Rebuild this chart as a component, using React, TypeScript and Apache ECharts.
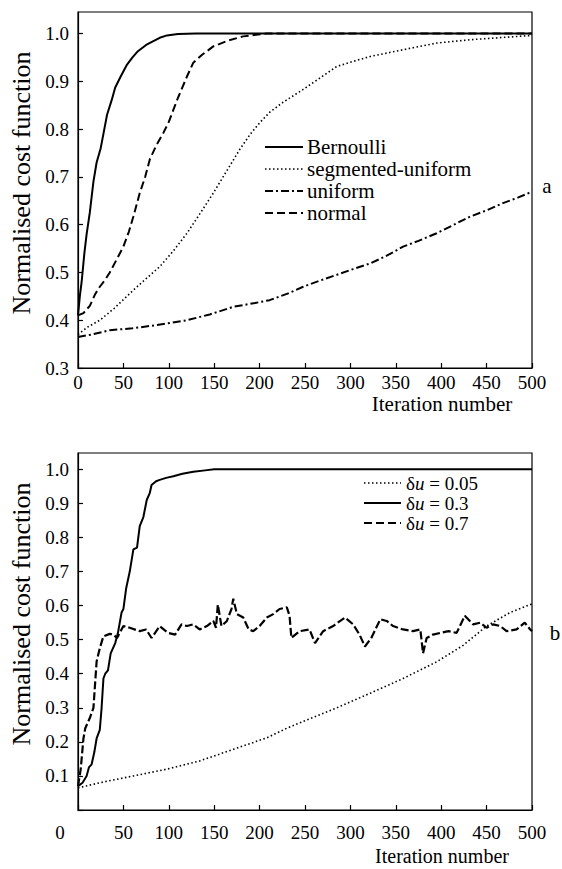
import React, { useEffect, useRef } from "react";
import * as echarts from "echarts";

const FONT = "Liberation Serif, Times New Roman, serif";

// Panel a
const xTicks = [0, 50, 100, 150, 200, 250, 300, 350, 400, 450, 500];
const bernoulli = [[0,0.41],[2,0.45],[4,0.48],[7,0.54],[9.5,0.58],[13,0.625],[17,0.69],[20.5,0.73],[25,0.76],[29,0.8],[32,0.83],[37,0.86],[41,0.887],[47,0.91],[54,0.935],[60,0.95],[66,0.963],[75,0.976],[83,0.984],[90,0.991],[98,0.996],[110,0.999],[130,1.0],[500,1.0]];
const segmentedUniform = [[0,0.37],[10,0.385],[24,0.40],[40,0.425],[61,0.463],[75,0.487],[90,0.512],[105,0.545],[120,0.582],[135,0.625],[149,0.666],[163,0.71],[178,0.757],[190,0.79],[200,0.813],[211,0.835],[225,0.855],[248,0.883],[265,0.905],[285,0.931],[300,0.94],[322,0.952],[358,0.966],[395,0.98],[432,0.987],[470,0.992],[500,0.996]];
const uniform = [[0,0.365],[15,0.37],[35,0.379],[60,0.383],[87,0.39],[120,0.40],[145,0.412],[171,0.428],[195,0.436],[211,0.442],[230,0.455],[248,0.47],[265,0.482],[285,0.495],[303,0.507],[322,0.519],[340,0.535],[358,0.554],[375,0.566],[395,0.582],[412,0.598],[432,0.617],[450,0.63],[468,0.645],[485,0.657],[500,0.669]];
const normal = [[0,0.41],[6,0.415],[13,0.43],[19,0.455],[24,0.47],[30,0.485],[35,0.5],[42,0.525],[50,0.554],[56,0.585],[61,0.617],[65,0.645],[68,0.666],[74,0.7],[79,0.736],[86,0.765],[94,0.792],[100,0.815],[105,0.84],[110,0.865],[114,0.883],[120,0.91],[127,0.939],[137,0.956],[149,0.973],[165,0.985],[182,0.994],[208,1.0],[500,1.0]];

// Panel b
const du005 = [[0,0.065],[24,0.08],[61,0.1],[98,0.12],[134,0.144],[171,0.178],[208,0.212],[230,0.24],[248,0.26],[285,0.3],[322,0.343],[358,0.386],[395,0.435],[424,0.483],[450,0.54],[476,0.58],[500,0.605]];
const du03 = [[0,0.07],[5,0.08],[9.5,0.1],[12,0.125],[15,0.134],[18,0.17],[20.5,0.21],[24,0.235],[26,0.3],[28,0.386],[30,0.4],[33,0.41],[36,0.46],[41,0.49],[44,0.52],[48,0.58],[50,0.59],[53,0.65],[57,0.7],[61,0.765],[65,0.77],[68,0.833],[72,0.86],[75.7,0.91],[79,0.93],[81,0.954],[86,0.965],[90,0.969],[97,0.975],[105,0.98],[115,0.987],[127,0.993],[140,0.997],[150,1.0],[500,1.0]];
const du07 = [[0,0.07],[3,0.12],[6,0.21],[8,0.24],[13,0.27],[17,0.3],[20.5,0.436],[24,0.475],[28,0.51],[35,0.517],[39,0.515],[43,0.505],[50,0.54],[57,0.535],[68,0.525],[75,0.53],[81,0.505],[90,0.54],[99,0.52],[107,0.515],[114,0.545],[120,0.54],[127,0.545],[134,0.53],[142,0.54],[149,0.555],[152,0.535],[154,0.603],[158,0.54],[164,0.555],[169,0.59],[171,0.62],[175,0.575],[182,0.565],[188,0.53],[193,0.525],[200,0.54],[208,0.565],[215,0.575],[222,0.59],[230,0.595],[233,0.57],[235,0.505],[244,0.525],[255,0.53],[261,0.49],[270,0.525],[281,0.54],[294,0.565],[303,0.545],[310,0.515],[316,0.48],[323,0.505],[333,0.56],[340,0.555],[347,0.54],[358,0.53],[369,0.525],[377,0.53],[380,0.46],[384,0.505],[391,0.515],[399,0.52],[408,0.525],[417,0.52],[426,0.57],[435,0.545],[443,0.55],[450,0.535],[457,0.545],[465,0.54],[472,0.525],[483,0.53],[492,0.55],[498,0.53],[500,0.525]];

const namesA = ["Bernoulli", "segmented-uniform", "uniform", "normal"];
const namesB = ["δu = 0.05", "δu = 0.3", "δu = 0.7"];
const yLabelText = "Normalised cost function";
const xLabelText = "Iteration number";

const DOT = [1.5, 2.5];
const DASHDOT = [8, 3, 2, 3];
const DASH = [8, 4];

export default function App() {
  const ref = useRef<HTMLDivElement>(null);
  useEffect(() => {
    if (!ref.current) return;
    const chart = echarts.init(ref.current, null, { renderer: "svg" });
    const black = "#000";
    const txt = { color: black, fontFamily: FONT };
    const xAxisBase = (gi: number, margin: number) => ({
      type: "value", gridIndex: gi, min: 0, max: 500, interval: 50,
      axisLine: { show: true, lineStyle: { color: black, width: 1.2 } },
      axisTick: { show: true, inside: true, length: 5, lineStyle: { color: black, width: 1.2 } },
      axisLabel: {
        ...txt, fontSize: 19, margin,
        formatter: (v: number) => (gi === 1 && v === 0 ? "" : xTicks.includes(v) ? String(v) : ""),
      },
      splitLine: { show: false },
    });
    const yAxisBase = (gi: number, min: number, max: number) => ({
      type: "value", gridIndex: gi, min, max, interval: 0.1,
      axisLine: { show: true, lineStyle: { color: black, width: 1.2 } },
      axisTick: { show: true, inside: true, length: 5, lineStyle: { color: black, width: 1.2 } },
      axisLabel: {
        ...txt, fontSize: 19, margin: 9, showMaxLabel: false,
        formatter: (v: number) => {
          const r = Math.round(v * 10);
          if (Math.abs(v * 10 - r) > 1e-6 || r === 0) return "";
          return (r / 10).toFixed(1);
        },
      },
      splitLine: { show: false },
    });
    const line = (name: string, data: number[][], xi: number, type: any, width: number) => ({
      name, type: "line", xAxisIndex: xi, yAxisIndex: xi, data, showSymbol: false, symbol: "none",
      lineStyle: { color: black, width, type }, itemStyle: { color: black }, z: 3,
    });
    const T = (text: string, x: number, y: number, size: number, extra: any = {}) => ({
      type: "text", x, y, ...extra,
      style: { text, fill: black, fontFamily: FONT, fontSize: size, align: "center", verticalAlign: "middle", ...(extra.style || {}) },
    });
    const legLine = (x1: number, x2: number, y: number, dash: any, w: number) => ({
      type: "line", shape: { x1, y1: y, x2, y2: y },
      style: { stroke: black, lineWidth: w, lineDash: dash },
    });
    const legA = [
      { n: namesA[0], dash: null, w: 2 },
      { n: namesA[1], dash: DOT, w: 1.6 },
      { n: namesA[2], dash: DASHDOT, w: 2 },
      { n: namesA[3], dash: DASH, w: 2 },
    ];
    const legB = [
      { n: namesB[0], dash: DOT, w: 1.6 },
      { n: namesB[1], dash: null, w: 2 },
      { n: namesB[2], dash: DASH, w: 2.2 },
    ];
    const graphics: any[] = [
      T(yLabelText, 21, 183, 26, { rotation: Math.PI / 2 }),
      T(yLabelText, 21, 614, 26, { rotation: Math.PI / 2 }),
      T(xLabelText, 442, 404, 21),
      T(xLabelText, 442, 856, 20),
      T("a", 547, 186, 21),
      T("b", 555, 633, 21),
      T("0", 60, 832, 19),
    ];
    legA.forEach((l, i) => {
      const y = 147 + i * 22;
      graphics.push(legLine(265, 303, y, l.dash, l.w));
      graphics.push({ type: "text", x: 307, y, style: { text: l.n, fill: black, fontFamily: FONT, fontSize: 21, align: "left", verticalAlign: "middle" } });
    });
    legB.forEach((l, i) => {
      const y = 483 + i * 20;
      graphics.push(legLine(364, 401, y, l.dash, l.w));
      graphics.push({
        type: "text", x: 406, y,
        style: {
          text: "{g|δ}{i|u}{g|" + l.n.slice(2) + "}", fill: black, fontFamily: FONT, fontSize: 19, align: "left", verticalAlign: "middle",
          rich: {
            g: { fontFamily: FONT, fontSize: 19, lineHeight: 19, fill: black },
            i: { fontFamily: FONT, fontSize: 19, lineHeight: 19, fontStyle: "italic", fill: black },
          },
        },
      });
    });
    const option: any = {
      animation: false,
      backgroundColor: "#fff",
      grid: [
        { left: 78, top: 12, width: 454, height: 356, show: true, borderColor: black, borderWidth: 1.2, backgroundColor: "transparent" },
        { left: 78, top: 453, width: 454, height: 357, show: true, borderColor: black, borderWidth: 1.2, backgroundColor: "transparent" },
      ],
      xAxis: [xAxisBase(0, 5), xAxisBase(1, 13)],
      yAxis: [yAxisBase(0, 0.3, 1.045), yAxisBase(1, 0, 1.048)],
      series: [
        line(namesA[0], bernoulli, 0, "solid", 2),
        line(namesA[1], segmentedUniform, 0, DOT, 1.6),
        line(namesA[2], uniform, 0, DASHDOT, 2),
        line(namesA[3], normal, 0, DASH, 2),
        line(namesB[0], du005, 1, DOT, 1.6),
        line(namesB[1], du03, 1, "solid", 2),
        line(namesB[2], du07, 1, [8, 3], 2.2),
      ],
      graphic: graphics,
    };
    chart.setOption(option);
    return () => chart.dispose();
  }, []);
  return <div ref={ref} style={{ position: "fixed", left: 0, top: 0, width: 562, height: 869, background: "#fff" }} />;
}
